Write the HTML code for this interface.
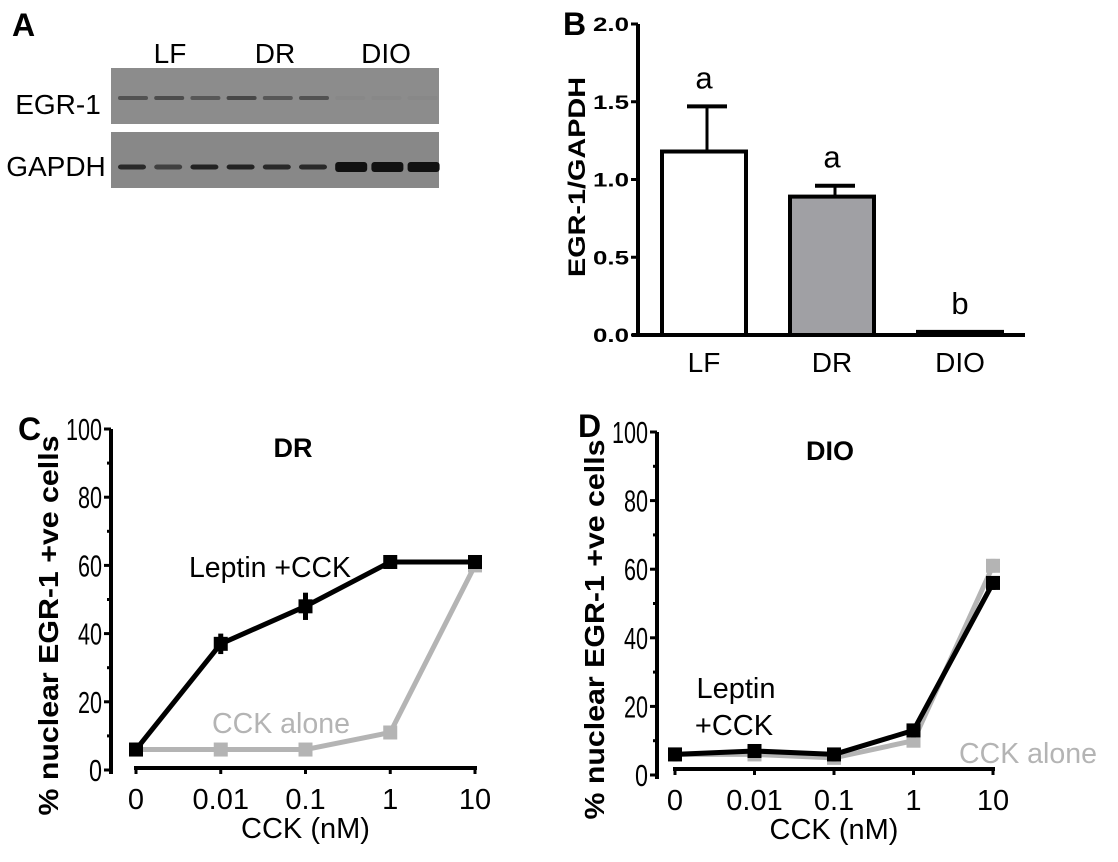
<!DOCTYPE html>
<html><head><meta charset="utf-8"><style>
html,body{margin:0;padding:0;background:#fff;}
svg{display:block;font-family:"Liberation Sans",Arial,sans-serif;}
</style></head><body>
<svg id="fig" width="1118" height="862" viewBox="0 0 1118 862">
<g>
<text x="12" y="36" font-size="32" font-weight="bold">A</text>
<text x="170" y="63" font-size="28" text-anchor="middle">LF</text>
<text x="275" y="63" font-size="28" text-anchor="middle">DR</text>
<text x="386" y="63" font-size="28" text-anchor="middle">DIO</text>
<text x="58" y="114" font-size="28" text-anchor="middle">EGR-1</text>
<text x="56" y="176" font-size="28" text-anchor="middle">GAPDH</text>
<rect x="111" y="68" width="328" height="56" fill="#8c8c8c"/>
<rect x="111" y="132" width="328" height="56" fill="#888"/>
<g id="bands"></g>
</g>
<g id="panelB">
<text x="563" y="35" font-size="32" font-weight="bold">B</text>
<text transform="translate(585,177) rotate(-90)" font-size="24" font-weight="bold" text-anchor="middle" textLength="200" lengthAdjust="spacingAndGlyphs">EGR-1/GAPDH</text>
</g>
<g id="panelC">
<text x="18" y="440" font-size="32" font-weight="bold">C</text>
</g>
<g id="panelD">
<text x="578" y="437" font-size="32" font-weight="bold">D</text>
</g>
</svg>
<script>
const NS="http://www.w3.org/2000/svg";
// Panel B data
const bCategories=["LF","DR","DIO"];
const bValues=[1.18,0.89,0.02];
const bErrors=[0.29,0.07,0];
const bLetters=["a","a","b"];
const bTicks=[0,0.5,1,1.5,2];
const bTickLabels=["0.0","0.5","1.0","1.5","2.0"];
// Panel C/D data
const cckDoses=["0","0.01","0.1","1","10"];
const yTicks=[0,20,40,60,80,100];
const cLeptin=[6,37,48,61,61];
const cLeptinErr=[2,3,4,2,2];
const cAlone=[6,6,6,11,60];
const cAloneErr=[1,1,1,2,2];
const dLeptin=[6,7,6,13,56];
const dLeptinErr=[2,1,2,2,2];
const dAlone=[6,6,5,10,61];
const dAloneErr=[1,1,1,1,2];
// Blot data (band intensity 0-1)
const egrBands=[0.55,0.6,0.5,0.65,0.5,0.55,0.03,0.03,0.03];
const gapdhBands=[0.8,0.6,0.85,0.85,0.8,0.8,1,1,1];

function el(tag,attrs,parent){const e=document.createElementNS(NS,tag);for(const k in attrs)e.setAttribute(k,attrs[k]);parent.appendChild(e);return e;}
function txt(parent,x,y,s,size,extra){const t=el('text',Object.assign({x:x,y:y,'font-size':size,'text-anchor':'middle'},extra||{}),parent);t.textContent=s;return t;}

const bands=document.getElementById('bands');
const laneX=i=>133+i*36.2;
egrBands.forEach((v,i)=>{const r=el('rect',{x:laneX(i)-15,y:96,width:30,height:4,rx:2,fill:'#222','fill-opacity':v},bands);

});
gapdhBands.forEach((v,i)=>{const h=i>=6?10:5;const r=el('rect',{x:laneX(i)-15,y:167-h/2,width:i>=6?32:28,height:h,rx:3,fill:'#111','fill-opacity':v},bands);

});

(function(){
const g=document.getElementById('panelB');
const y0=335,pxPer=155.5,ax=638;
const yS=v=>y0-v*pxPer;
const xC=i=>704+i*128;
el('line',{x1:ax,y1:yS(2),x2:ax,y2:y0+2,stroke:'#000','stroke-width':4},g);
el('line',{x1:ax-6,y1:y0,x2:1025,y2:y0,stroke:'#000','stroke-width':4},g);
bTicks.forEach((t,i)=>{
 const tk=el('line',{x1:ax-7,y1:yS(t),x2:ax,y2:yS(t),stroke:'#000','stroke-width':3},g);
 
 
 const l=txt(g,ax-9,yS(t)+7,bTickLabels[i],19,{'text-anchor':'end','font-weight':'bold','textLength':36,'lengthAdjust':'spacingAndGlyphs'});
 
 
});
const fills=['#fff','#a0a0a4','#000'];
bCategories.forEach((c,i)=>{
 const x=xC(i),top=yS(bValues[i]);
 if(bErrors[i]>0){
  const e=el('line',{x1:x+3,y1:yS(bValues[i]+bErrors[i]),x2:x+3,y2:top,stroke:'#000','stroke-width':3},g);
  
  
  const cap=el('line',{x1:x-17,y1:yS(bValues[i]+bErrors[i]),x2:x+23,y2:yS(bValues[i]+bErrors[i]),stroke:'#000','stroke-width':4},g);
  
  
 }
 const b=el('rect',{x:x-42,y:top,width:84,height:y0-top,fill:fills[i],stroke:'#000','stroke-width':4},g);
 
 
 const lt=txt(g,x,yS(bValues[i]+bErrors[i])-18,bLetters[i],31);
 
 
 const cl=txt(g,x,372,c,28);
 
 
});
})();

function linePanel(gid,cfg){
 const g=document.getElementById(gid);
 const yS=v=>cfg.y0-v*(cfg.y0-cfg.y100)/100;
 const xS=i=>cfg.x0+i*cfg.dx;
 el('line',{x1:cfg.ax,y1:cfg.y100,x2:cfg.ax,y2:cfg.y0+4,stroke:'#000','stroke-width':4},g);
 for(let v=0;v<=100;v+=10){
  const tk=el('line',{x1:cfg.ax-(v%20==0?7:4),y1:yS(v),x2:cfg.ax,y2:yS(v),stroke:'#000','stroke-width':3},g);
  
  
 }
 yTicks.forEach(t=>{
  const l=txt(g,cfg.ax-9,yS(t)+11,String(t),31,{'text-anchor':'end','textLength':t==100?36:(t==0?13:24),'lengthAdjust':'spacingAndGlyphs'});
  
  
 });
 el('line',{x1:xS(0)-2,y1:cfg.xa,x2:xS(4)+2,y2:cfg.xa,stroke:'#000','stroke-width':4},g);
 cckDoses.forEach((d,i)=>{
  const tk=el('line',{x1:xS(i),y1:cfg.xa,x2:xS(i),y2:cfg.xa+6,stroke:'#000','stroke-width':3},g);
  
  
  const l=txt(g,xS(i),cfg.xa+41,d,29);
  
  
 });
 const xt=txt(g,(xS(0)+xS(4))/2,cfg.xa+70,'CCK (nM)',29);
 
 
 const yt=txt(g,0,0,'% nuclear EGR-1  +ve cells',28,{'font-weight':'bold',transform:'translate('+cfg.ytx+','+((cfg.y100+cfg.y0)/2+26)+') rotate(-90)','textLength':380,'lengthAdjust':'spacingAndGlyphs'});
 
 
 const tt=txt(g,cfg.titleX,cfg.y100+28,cfg.title,27,{'font-weight':'bold'});
 
 
 function series(vals,errs,color,name){
  const pts=vals.map((v,i)=>xS(i)+','+yS(v)).join(' ');
  const pl=el('polyline',{points:pts,fill:'none',stroke:color,'stroke-width':5,'stroke-linejoin':'round'},g);
  
  
  vals.forEach((v,i)=>{
   const e=el('line',{x1:xS(i),y1:yS(v+errs[i]),x2:xS(i),y2:yS(v-errs[i]),stroke:color,'stroke-width':5},g);
   
   
   const m=el('rect',{x:xS(i)-7,y:yS(v)-7,width:14,height:14,fill:color},g);
   
   
  });
 }
 series(cfg.alone,cfg.aloneErr,'#b4b4b4','cck-alone');
 series(cfg.lep,cfg.lepErr,'#000','leptin-cck');
 cfg.labels(g,xS,yS);
}
linePanel('panelC',{ax:111,y0:770,y100:429,x0:136,dx:84.75,xa:768,ytx:58,title:'DR',titleX:293,
 lep:cLeptin,lepErr:cLeptinErr,alone:cAlone,aloneErr:cAloneErr,
 labels:(g,xS,yS)=>{
  const a=txt(g,270,577,'Leptin +CCK',29,{'textLength':162,'lengthAdjust':'spacingAndGlyphs'});
  const b=txt(g,281,733,'CCK alone',29,{fill:'#b4b4b4','textLength':138,'lengthAdjust':'spacingAndGlyphs'});
 }});
linePanel('panelD',{ax:657,y0:775,y100:432,x0:675,dx:79.5,xa:769,ytx:604,title:'DIO',titleX:830,
 lep:dLeptin,lepErr:dLeptinErr,alone:dAlone,aloneErr:dAloneErr,
 labels:(g,xS,yS)=>{
  const a=txt(g,736,698,'Leptin',29);
  const a2=txt(g,734,735,'+CCK',29);
  const b=txt(g,1028,763,'CCK alone',29,{fill:'#b4b4b4','textLength':138,'lengthAdjust':'spacingAndGlyphs'});
 }});
</script>
</body></html>
